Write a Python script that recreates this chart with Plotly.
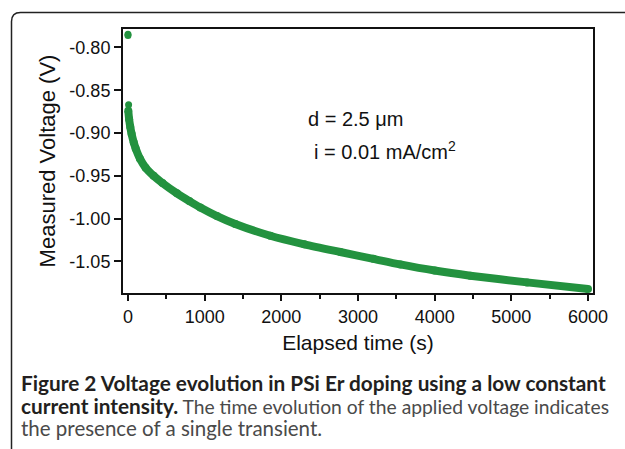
import plotly.graph_objects as go

# ---- data ----
early_time_s = [0, 0, 8]
early_voltage_v = [-0.7845, -0.7860, -0.8670]

time_s = [4, 15, 30, 47, 75, 100, 156, 230, 334, 450, 639, 800, 943, 1161,
          1400, 1856, 2300, 2769, 3200, 3552, 4000, 4465, 5204, 6000]
voltage_v = [-0.874, -0.884, -0.893, -0.901, -0.911, -0.918, -0.930, -0.9405,
             -0.950, -0.9585, -0.9705, -0.9795, -0.9870, -0.9970, -1.0062,
             -1.0200, -1.0300, -1.0390, -1.0470, -1.0535, -1.0607, -1.0667,
             -1.0745, -1.0822]

x_ticks = [0, 1000, 2000, 3000, 4000, 5000, 6000]
y_ticks = [-0.80, -0.85, -0.90, -0.95, -1.00, -1.05]
y_tick_labels = ["-0.80", "-0.85", "-0.90", "-0.95", "-1.00", "-1.05"]

GREEN = "#23923f"
W, H = 625, 449
ML, MR, MT, MB = 123, 32, 29, 156
PW, PH = W - ML - MR, H - MT - MB


def px(x):
    return (x - ML) / PW


def py(y):
    return 1 - (y - MT) / PH


fig = go.Figure()
fig.add_trace(go.Scatter(
    x=time_s, y=voltage_v, mode="lines+markers",
    line=dict(color=GREEN, width=8, shape="spline", smoothing=0.8),
    marker=dict(color=GREEN, size=8),
    showlegend=False, hoverinfo="skip"))
fig.add_trace(go.Scatter(
    x=early_time_s, y=early_voltage_v, mode="markers",
    marker=dict(color=GREEN, size=7), showlegend=False, hoverinfo="skip"))

axis_font = dict(family="Liberation Sans, Arial, sans-serif", size=18, color="#111")

fig.update_layout(
    width=W, height=H,
    margin=dict(l=ML, r=MR, t=MT, b=MB),
    paper_bgcolor="white", plot_bgcolor="white",
    font=axis_font,
    xaxis=dict(
        range=[-65, 6065], tickvals=x_ticks, ticks="outside", ticklen=6,
        tickwidth=1.5, tickcolor="#111", showline=True, linecolor="#111",
        linewidth=2, mirror=True, showgrid=False, zeroline=False,
        minor=dict(dtick=500, tick0=0, ticks="outside", ticklen=4,
                   tickwidth=1.5, tickcolor="#111", showgrid=False),
        title=dict(text="Elapsed time (s)", font=dict(size=21), standoff=10),
        tickfont=axis_font,
    ),
    yaxis=dict(
        range=[-1.0869, -0.7785], tickvals=y_ticks, ticktext=y_tick_labels,
        ticks="outside", ticklen=7, tickwidth=1.5, tickcolor="#111",
        showline=True, linecolor="#111", linewidth=2, mirror=True,
        showgrid=False, zeroline=False,
        title=dict(text="Measured Voltage (V)", font=dict(size=22), standoff=8),
        tickfont=axis_font,
    ),
)

# annotation inside the plot
fig.add_annotation(xref="paper", yref="paper", x=px(306), y=py(119),
                   xanchor="left", yanchor="middle", showarrow=False,
                   text="d = 2.5 μm", font=dict(size=20, color="#111"))
fig.add_annotation(xref="paper", yref="paper", x=px(312), y=py(150),
                   xanchor="left", yanchor="middle", showarrow=False,
                   text="i = 0.01 mA/cm<sup>2</sup>", font=dict(size=20, color="#111"))

# caption
cap_font = dict(family="Lato, Noto Sans, sans-serif", size=20.8, color="#231f20")
fig.add_annotation(xref="paper", yref="paper", x=px(19), y=py(382),
                   xanchor="left", yanchor="middle", showarrow=False, align="left",
                   text="<b>Figure 2 Voltage evolution in PSi Er doping using a low constant</b>",
                   font=cap_font)
fig.add_annotation(xref="paper", yref="paper", x=px(19), y=py(405),
                   xanchor="left", yanchor="middle", showarrow=False, align="left",
                   text="<b>current intensity.</b><span style='color:#4a4a4a;font-size:19.3px'> The time evolution of the applied voltage indicates</span>",
                   font=cap_font)
fig.add_annotation(xref="paper", yref="paper", x=px(19), y=py(428),
                   xanchor="left", yanchor="middle", showarrow=False, align="left",
                   text="<span style='color:#4a4a4a;font-size:20.5px'>the presence of a single transient.</span>",
                   font=cap_font)

# outer frame: top and left edges with rounded corner
r = 9
x0, y0 = 11.5, 12.5
path = (f"M {px(x0)},{py(H + 2)} L {px(x0)},{py(y0 + r)} "
        f"Q {px(x0)},{py(y0)} {px(x0 + r)},{py(y0)} L {px(W + 2)},{py(y0)}")
fig.add_shape(type="path", xref="paper", yref="paper", path=path,
              line=dict(color="#222", width=1.5))

fig.write_html("out.html")
